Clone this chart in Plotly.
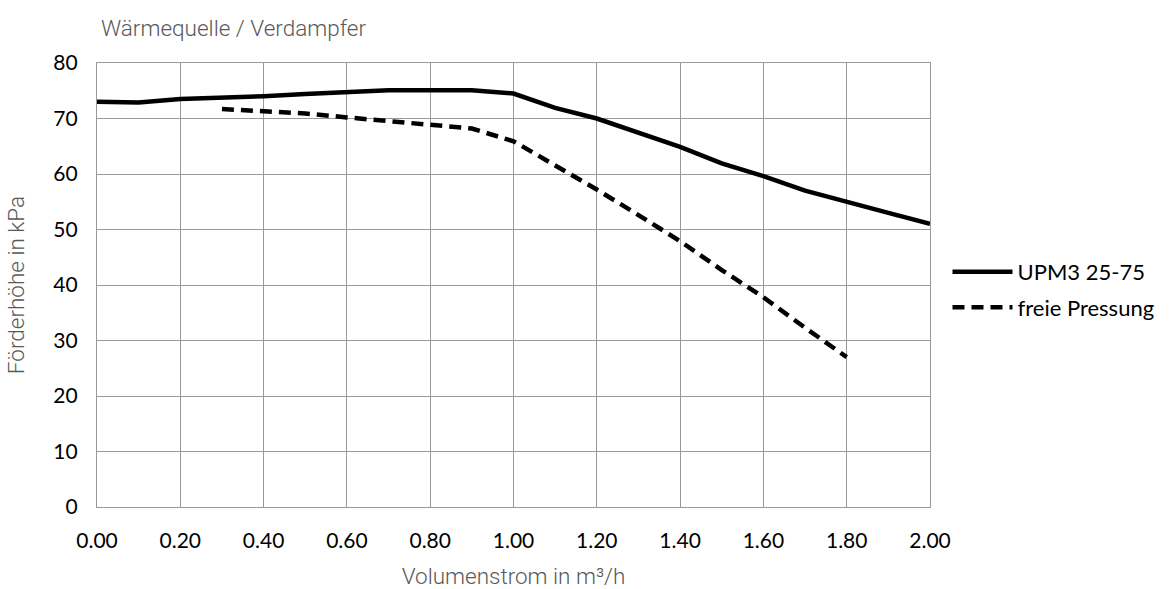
import plotly.graph_objects as go

x_solid = [0.0, 0.1, 0.2, 0.3, 0.4, 0.5, 0.6, 0.7, 0.8, 0.9, 1.0, 1.1, 1.2, 1.3, 1.4, 1.5, 1.6, 1.7, 1.8, 1.9, 2.0]
y_solid = [73.0, 72.9, 73.5, 73.7, 74.0, 74.4, 74.7, 75.1, 75.1, 75.1, 74.5, 71.9, 70.0, 67.5, 64.9, 61.9, 59.6, 57.0, 55.1, 53.0, 51.0]

x_dash = [0.3, 0.4, 0.5, 0.6, 0.7, 0.8, 0.9, 1.0, 1.1, 1.2, 1.3, 1.4, 1.5, 1.6, 1.7, 1.8]
y_dash = [71.7, 71.4, 70.9, 70.2, 69.6, 68.9, 68.2, 65.9, 61.6, 57.2, 52.6, 47.9, 42.7, 37.8, 32.3, 27.0]

name_solid = "UPM3 25-75"
name_dash = "freie Pressung"
title_text = "Wärmequelle / Verdampfer"
x_title = "Volumenstrom in m³/h"
y_title = "Förderhöhe in kPa"

x_ticks = [0.0, 0.2, 0.4, 0.6, 0.8, 1.0, 1.2, 1.4, 1.6, 1.8, 2.0]
y_ticks = [0, 10, 20, 30, 40, 50, 60, 70, 80]

fig = go.Figure()
fig.add_trace(go.Scatter(x=x_solid, y=y_solid, mode="lines", name=name_solid,
                         legendgroup="g1",
                         line=dict(color="black", width=4.5)))
fig.add_trace(go.Scatter(x=x_dash, y=y_dash, mode="lines", name=name_dash,
                         legendgroup="g2",
                         line=dict(color="black", width=4.5, dash="12px,7px")))

tick_font = dict(family="Lato, Calibri, sans-serif", size=21, color="black")
light_font = dict(family="Roboto", size=22.5, color="#595959", weight=300)

fig.update_layout(
    width=1176, height=589,
    margin=dict(l=97, r=246, t=63, b=82, autoexpand=False),
    paper_bgcolor="white", plot_bgcolor="white",
    showlegend=True,
    legend=dict(x=1.021, y=0.489, xanchor="left", yanchor="middle",
                font=dict(family="Lato, Calibri, sans-serif", size=22, color="black"),
                tracegroupgap=4, itemwidth=60, bgcolor="rgba(0,0,0,0)"),
    annotations=[dict(text=title_text, xref="paper", yref="paper", x=0.003, y=1.0,
                      xanchor="left", yanchor="bottom", yshift=20, showarrow=False,
                      font=light_font)],
)

fig.update_xaxes(range=[0, 2.0], tickvals=x_ticks, ticktext=[f"{v:.2f}" for v in x_ticks],
                 automargin=False,
                 showgrid=True, gridcolor="#999999", gridwidth=1.3,
                 showline=True, linecolor="#999999", linewidth=1.3, mirror=True,
                 zeroline=False, tickfont=tick_font, ticks="", ticklabelstandoff=15,
                 title=dict(text=x_title, font=light_font, standoff=20))
fig.update_yaxes(range=[0, 80], tickvals=y_ticks,
                 automargin=False,
                 showgrid=True, gridcolor="#999999", gridwidth=1.3,
                 showline=True, linecolor="#999999", linewidth=1.3, mirror=True,
                 zeroline=False, tickfont=tick_font, ticks="", ticklabelstandoff=14,
                 title=dict(text=y_title, font=light_font, standoff=22))

fig.write_html("out.html")
